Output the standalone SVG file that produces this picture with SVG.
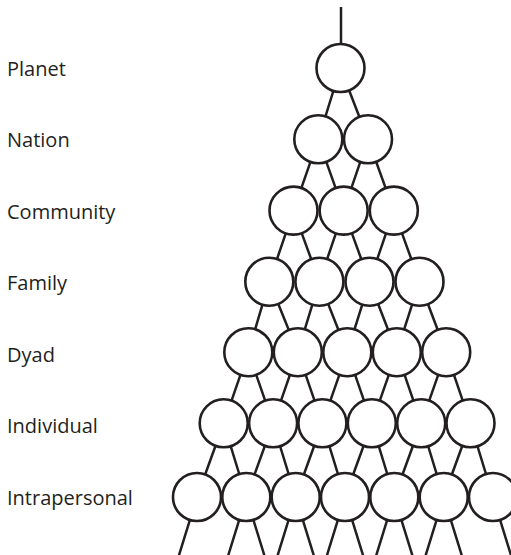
<svg xmlns="http://www.w3.org/2000/svg" width="511" height="555" viewBox="0 0 511 555">
<style>
.c{fill:#fff;stroke:#231f20;stroke-width:2.6}
.l{stroke:#231f20;stroke-width:2.5;fill:none}
.t{font-family:"Open Sans","Noto Sans",sans-serif;font-size:20px;fill:#231f20}
</style>
<rect width="511" height="555" fill="#fff"/>
<g id="labels">
<text class="t" x="7" y="76">Planet</text>
<text class="t" x="7" y="147">Nation</text>
<text class="t" x="7" y="218.5">Community</text>
<text class="t" x="7" y="290">Family</text>
<text class="t" x="7" y="361.5">Dyad</text>
<text class="t" x="7" y="432.5">Individual</text>
<text class="t" x="7" y="505">Intrapersonal</text>
</g>
<g id="connectors" class="l">
<path d="M341 7V68"/>
<path d="M340.5 68L318.3 139.3M340.5 68L368 139.3"/>
<path d="M318.3 139.3L293.5 210.6M318.3 139.3L343.65 210.6M368 139.3L343.65 210.6M368 139.3L393.8 210.6"/>
<path d="M293.5 210.6L269.3 281.7M293.5 210.6L319.4 281.7M343.65 210.6L319.4 281.7M343.65 210.6L369.5 281.7M393.8 210.6L369.5 281.7M393.8 210.6L419.5 281.7"/>
<path d="M269.3 281.7L248.3 352.2M269.3 281.7L297.8 352.2M319.4 281.7L297.8 352.2M319.4 281.7L347.3 352.2M369.5 281.7L347.3 352.2M369.5 281.7L396.8 352.2M419.5 281.7L396.8 352.2M419.5 281.7L446.2 352.2"/>
<path d="M248.3 352.2L223.7 423.3M248.3 352.2L273.1 423.3M297.8 352.2L273.1 423.3M297.8 352.2L322.4 423.3M347.3 352.2L322.4 423.3M347.3 352.2L371.8 423.3M396.8 352.2L371.8 423.3M396.8 352.2L421.2 423.3M446.2 352.2L421.2 423.3M446.2 352.2L470.5 423.3"/>
<path d="M223.7 423.3L197 497M223.7 423.3L246.3 497M273.1 423.3L246.3 497M273.1 423.3L295.7 497M322.4 423.3L295.7 497M322.4 423.3L345 497M371.8 423.3L345 497M371.8 423.3L394.3 497M421.2 423.3L394.3 497M421.2 423.3L443.7 497M470.5 423.3L443.7 497M470.5 423.3L493 497"/>
<path d="M197 497L177.5 560M246.3 497L226.8 560M246.3 497L265.8 560M295.7 497L276.2 560M295.7 497L315.2 560M345 497L325.5 560M345 497L364.5 560M394.3 497L374.8 560M394.3 497L413.8 560M443.7 497L424.2 560M443.7 497L463.2 560M493 497L512.5 560"/>
</g>
<g id="planet"><circle class="c" cx="340.5" cy="68" r="24"/></g>
<g id="nation"><circle class="c" cx="318.3" cy="139.3" r="24"/><circle class="c" cx="368" cy="139.3" r="24"/></g>
<g id="community"><circle class="c" cx="293.5" cy="210.6" r="24"/><circle class="c" cx="343.65" cy="210.6" r="24"/><circle class="c" cx="393.8" cy="210.6" r="24"/></g>
<g id="family"><circle class="c" cx="269.3" cy="281.7" r="24"/><circle class="c" cx="319.4" cy="281.7" r="24"/><circle class="c" cx="369.5" cy="281.7" r="24"/><circle class="c" cx="419.5" cy="281.7" r="24"/></g>
<g id="dyad"><circle class="c" cx="248.3" cy="352.2" r="24"/><circle class="c" cx="297.8" cy="352.2" r="24"/><circle class="c" cx="347.3" cy="352.2" r="24"/><circle class="c" cx="396.8" cy="352.2" r="24"/><circle class="c" cx="446.2" cy="352.2" r="24"/></g>
<g id="individual"><circle class="c" cx="223.7" cy="423.3" r="24"/><circle class="c" cx="273.1" cy="423.3" r="24"/><circle class="c" cx="322.4" cy="423.3" r="24"/><circle class="c" cx="371.8" cy="423.3" r="24"/><circle class="c" cx="421.2" cy="423.3" r="24"/><circle class="c" cx="470.5" cy="423.3" r="24"/></g>
<g id="intrapersonal"><circle class="c" cx="197" cy="497" r="24"/><circle class="c" cx="246.3" cy="497" r="24"/><circle class="c" cx="295.7" cy="497" r="24"/><circle class="c" cx="345" cy="497" r="24"/><circle class="c" cx="394.3" cy="497" r="24"/><circle class="c" cx="443.7" cy="497" r="24"/><circle class="c" cx="493" cy="497" r="24"/></g>
</svg>
